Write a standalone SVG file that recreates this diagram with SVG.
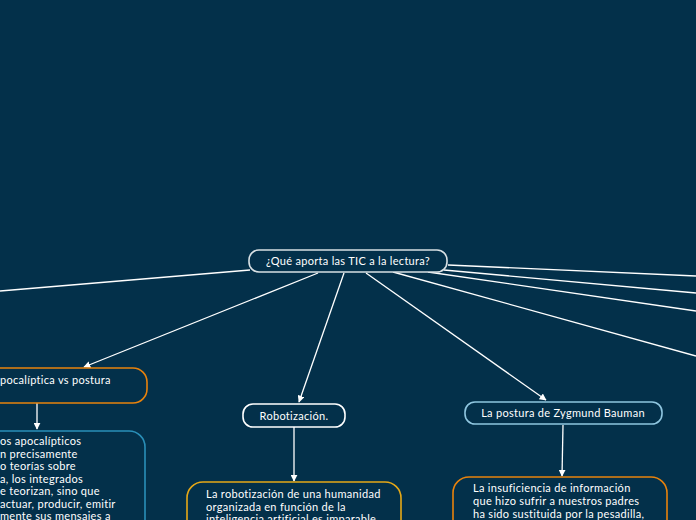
<svg xmlns="http://www.w3.org/2000/svg" width="696" height="520" viewBox="0 0 696 520">
<defs>
<marker id="arr" viewBox="0 0 10 10" refX="9" refY="5" markerWidth="7" markerHeight="7" markerUnits="userSpaceOnUse" orient="auto">
<path d="M0,0 L10,5 L0,10 z" fill="#ffffff"/>
</marker>
<style>
.t{font-family:Lato,"Open Sans","Liberation Sans",sans-serif;font-size:11px;letter-spacing:0.3px;fill:#ffffff}
.c{stroke:#ffffff;stroke-width:1.3;fill:none}
.n{fill:#03304a;stroke-width:1.6}
</style>
</defs>
<rect width="696" height="520" fill="#03304a"/>
<g id="connectors">
<line class="c" x1="250" y1="270" x2="0" y2="291"/>
<line class="c" x1="318" y1="273" x2="84" y2="367" marker-end="url(#arr)"/>
<line class="c" x1="344" y1="273" x2="299" y2="402" marker-end="url(#arr)"/>
<line class="c" x1="366" y1="273" x2="546" y2="400" marker-end="url(#arr)"/>
<line class="c" x1="448" y1="265" x2="696" y2="276"/>
<line class="c" x1="444" y1="270" x2="696" y2="293"/>
<line class="c" x1="428" y1="272" x2="696" y2="311"/>
<line class="c" x1="393" y1="272" x2="696" y2="356"/>
<line class="c" x1="37" y1="403" x2="37" y2="429" marker-end="url(#arr)"/>
<line class="c" x1="294" y1="427" x2="294" y2="481" marker-end="url(#arr)"/>
<line class="c" x1="563" y1="425" x2="562" y2="476" marker-end="url(#arr)"/>
</g>
<g id="central">
<rect class="n" x="249" y="250" width="198" height="22" rx="10" stroke="#d8e0e4"/>
<text class="t" x="348" y="265" text-anchor="middle">¿Qué aporta las TIC a la lectura?</text>
</g>
<g id="apocaliptica">
<rect class="n" x="-20" y="368" width="167" height="35" rx="14" stroke="#e8820c"/>
<text class="t" x="0" y="384">pocalíptica vs postura</text>
</g>
<g id="apocaliptica-texto">
<rect class="n" x="-20" y="431" width="165" height="110" rx="16" stroke="#2a8fb8"/>
<text class="t" x="0" y="445">os apocalípticos</text>
<text class="t" x="0" y="457.5">n precisamente</text>
<text class="t" x="0" y="470">o teorías sobre</text>
<text class="t" x="0" y="482.5">a, los integrados</text>
<text class="t" x="0" y="495">e teorizan, sino que</text>
<text class="t" x="0" y="507.5">actuar, producir, emitir</text>
<text class="t" x="0" y="520">mente sus mensajes a</text>
</g>
<g id="robotizacion">
<rect class="n" x="243" y="404" width="102" height="23" rx="10" stroke="#ffffff"/>
<text class="t" x="294" y="419.5" text-anchor="middle">Robotización.</text>
</g>
<g id="robotizacion-texto">
<rect class="n" x="187" y="482" width="214" height="60" rx="16" stroke="#e6a817"/>
<text class="t" x="206" y="498">La robotización de una humanidad</text>
<text class="t" x="206" y="510.5">organizada en función de la</text>
<text class="t" x="206" y="523">inteligencia artificial es imparable</text>
</g>
<g id="bauman">
<rect class="n" x="465" y="402" width="197" height="22" rx="10" stroke="#8fc6e0"/>
<text class="t" x="563" y="417" text-anchor="middle">La postura de Zygmund Bauman</text>
</g>
<g id="bauman-texto">
<rect class="n" x="453" y="477" width="214" height="70" rx="16" stroke="#e8820c"/>
<text class="t" x="473" y="492">La insuficiencia de información</text>
<text class="t" x="473" y="505">que hizo sufrir a nuestros padres</text>
<text class="t" x="473" y="518">ha sido sustituida por la pesadilla,</text>
</g>
</svg>
